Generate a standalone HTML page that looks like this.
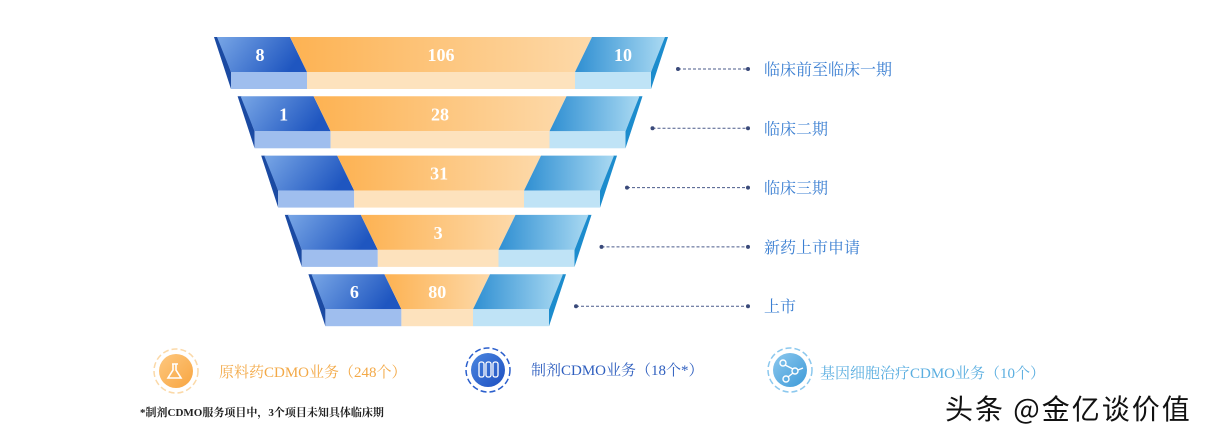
<!DOCTYPE html>
<html><head><meta charset="utf-8"><style>
html,body{margin:0;padding:0;background:#fff;}
svg{display:block;font-family:"Liberation Serif","Noto Serif CJK SC",serif;}
</style></head><body>
<svg id="chart" width="1211" height="437" viewBox="0 0 1211 437" xmlns="http://www.w3.org/2000/svg">
<defs>
<linearGradient id="gL" x1="0" y1="0" x2="1" y2="0.3"><stop offset="0" stop-color="#78a6e6"/><stop offset="1" stop-color="#1f56c0"/></linearGradient>
<linearGradient id="gM" x1="0" y1="0" x2="1" y2="0"><stop offset="0" stop-color="#fdb252"/><stop offset="1" stop-color="#fdd9a9"/></linearGradient>
<linearGradient id="gR" x1="0" y1="0" x2="1" y2="0"><stop offset="0" stop-color="#2f8fd2"/><stop offset="1" stop-color="#a9d9f2"/></linearGradient>
<linearGradient id="i1" x1="0" y1="0" x2="1" y2="1"><stop offset="0" stop-color="#fdc880"/><stop offset="1" stop-color="#f8a540"/></linearGradient>
<linearGradient id="i2" x1="0" y1="0" x2="1" y2="1"><stop offset="0" stop-color="#4a86e0"/><stop offset="1" stop-color="#1d4fc0"/></linearGradient>
<linearGradient id="i3" x1="0" y1="0" x2="1" y2="1"><stop offset="0" stop-color="#8cc8ee"/><stop offset="1" stop-color="#3d9ad8"/></linearGradient>
</defs>
<g id="funnel"></g>
<g id="labels"></g>
<g>
  <g>
    <circle cx="176" cy="371" r="22" fill="none" stroke="#fbd9a8" stroke-width="1.5" stroke-dasharray="6 3"/>
    <circle cx="176" cy="371" r="17" fill="url(#i1)"/>
    <path d="M172 364 l6 0 M173 364 l0 6 l-5 8 l13 0 l-5 -8 l0 -6" fill="none" stroke="#fff" stroke-width="1.6"/>
    <text x="219" y="377" font-size="15" fill="#f3a947">原料药CDMO业务（248个）</text>
  </g>
  <g>
    <circle cx="488" cy="370" r="22" fill="none" stroke="#2b5fcc" stroke-width="1.5" stroke-dasharray="6 3"/>
    <circle cx="488" cy="370" r="17" fill="url(#i2)"/>
    <rect x="479" y="362" width="5" height="15" rx="2" fill="none" stroke="#fff" stroke-width="1.3"/>
    <rect x="486" y="362" width="5" height="15" rx="2" fill="none" stroke="#fff" stroke-width="1.3"/>
    <rect x="493" y="362" width="5" height="15" rx="2" fill="none" stroke="#fff" stroke-width="1.3"/>
    <text x="531" y="375" font-size="15" fill="#2f5fbf">制剂CDMO业务（18个*）</text>
  </g>
  <g>
    <circle cx="790" cy="370" r="22" fill="none" stroke="#8cc8ee" stroke-width="1.5" stroke-dasharray="6 3"/>
    <circle cx="790" cy="370" r="17" fill="url(#i3)"/>
    <g stroke="#fff" stroke-width="1.4" fill="none"><circle cx="783" cy="363" r="3"/><circle cx="795" cy="371" r="3"/><circle cx="786" cy="379" r="3"/><path d="M785 365 L793 369 M793 373 L788 377 M798 370 L803 368"/></g>
    <text x="820" y="378" font-size="15" fill="#5aaee0">基因细胞治疗CDMO业务（10个）</text>
  </g>
  <text x="140" y="416" font-size="11" font-weight="bold" fill="#222">*制剂CDMO服务项目中，3个项目未知具体临床期</text>
</g>
<text x="945" y="419" font-size="28" letter-spacing="2" fill="#111" font-family="'Noto Sans CJK SC',sans-serif">头条 @金亿谈价值</text>
</svg>
<script>
const stages = ["临床前至临床一期","临床二期","临床三期","新药上市申请","上市"];
const leftValues = ["8","1","","","6"];
const midValues = ["106","28","31","3","80"];
const rightValues = ["10","","","",""];
const NS="http://www.w3.org/2000/svg";
const funnel=document.getElementById('funnel');
const labels=document.getElementById('labels');
function mk(tag,attrs,parent){const e=document.createElementNS(NS,tag);for(const k in attrs)e.setAttribute(k,attrs[k]);parent.appendChild(e);return e;}
const n=stages.length;
function tierTop(i){return 37+i*59.3;}
function tierLeft(i){return 214+i*23.6;}
function tierRight(i){return 668-i*25.5;}
for(let i=0;i<n;i++){
  const t=tierTop(i), xl=tierLeft(i), xr=tierRight(i);
  const f=35, b=t+52, s=17;
  const g=mk('g',{},funnel);
  
  
  mk('polygon',{points:`${xl},${t} ${xl+4},${t} ${xl+s},${t+f} ${xl+s},${b}`,fill:'#1b4aa2'},g);
  mk('polygon',{points:`${xr},${t} ${xr-4},${t} ${xr-s},${t+f} ${xr-s},${b}`,fill:'#1c8ccd'},g);
  const lb=xl+76, lbs=xl+93, rb=xr-76, rbs=xr-93;
  mk('polygon',{points:`${xl+3},${t} ${lb},${t} ${lbs},${t+f} ${xl+s},${t+f}`,fill:'url(#gL)'},g);
  mk('polygon',{points:`${lb},${t} ${rb},${t} ${rbs},${t+f} ${lbs},${t+f}`,fill:'url(#gM)'},g);
  mk('polygon',{points:`${rb},${t} ${xr-3},${t} ${xr-s},${t+f} ${rbs},${t+f}`,fill:'url(#gR)'},g);
  mk('rect',{x:xl+s,y:t+f,width:lbs-xl-s,height:b-t-f,fill:'#9fbeee'},g);
  mk('rect',{x:lbs,y:t+f,width:rbs-lbs,height:b-t-f,fill:'#fde2bd'},g);
  mk('rect',{x:rbs,y:t+f,width:xr-s-rbs,height:b-t-f,fill:'#bfe3f6'},g);
  const ty=t+24;
  [[leftValues[i],xl+46,'left'],[midValues[i],(xl+xr)/2,'mid'],[rightValues[i],xr-45,'right']].forEach(([v,x,k])=>{
    if(!v)return;
    const tx=mk('text',{x:x,y:ty,'text-anchor':'middle','font-size':18,'font-weight':'bold',fill:'#fff'},g);
    
    
    tx.textContent=v;
  });
  const ly=t+32, lx=xr+10;
  const lg=mk('g',{},labels);
  
  
  mk('line',{x1:lx,y1:ly,x2:748,y2:ly,stroke:'#4a5a8a','stroke-width':1,'stroke-dasharray':'3 2'},lg);
  mk('circle',{cx:lx,cy:ly,r:2,fill:'#3a4a7a'},lg);
  mk('circle',{cx:748,cy:ly,r:2,fill:'#3a4a7a'},lg);
  const st=mk('text',{x:764,y:ly+6,'font-size':16,fill:'#3b7fd2'},lg);
  st.textContent=stages[i];
}
</script>
</body></html>
